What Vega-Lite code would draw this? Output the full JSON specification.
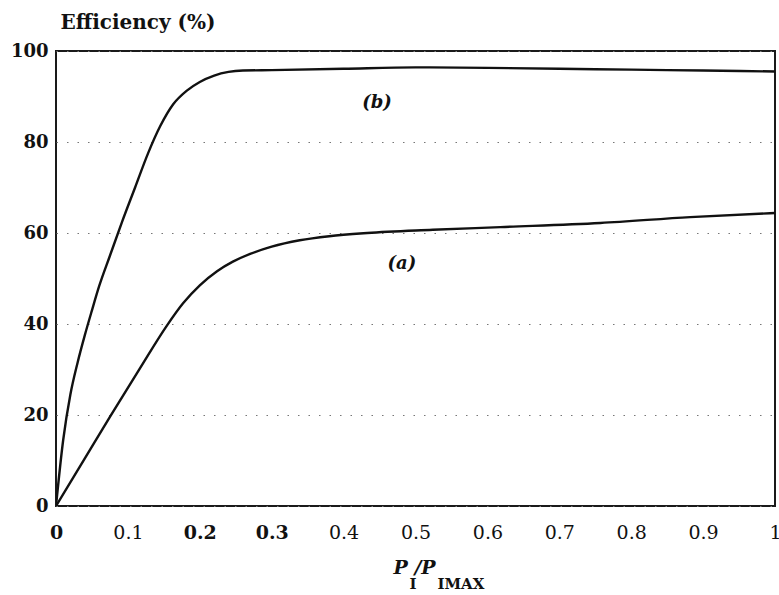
{
  "$schema": "https://vega.github.io/schema/vega-lite/v6.json",
  "width": 719,
  "height": 455,
  "autosize": {"type": "none"},
  "padding": {"left": 56, "top": 51, "right": 4, "bottom": 89},
  "background": "white",
  "config": {"view": {"stroke": "#1a1a1a", "strokeWidth": 2}, "font": "DejaVu Serif"},
  "datasets": {
    "curves": [
      {"series": "a", "x": 0, "y": 0},
      {"series": "a", "x": 0.038, "y": 9.9},
      {"series": "a", "x": 0.075, "y": 19.6},
      {"series": "a", "x": 0.115, "y": 29.8},
      {"series": "a", "x": 0.154, "y": 39.6},
      {"series": "a", "x": 0.177, "y": 44.6},
      {"series": "a", "x": 0.2, "y": 48.5},
      {"series": "a", "x": 0.224, "y": 51.6},
      {"series": "a", "x": 0.246, "y": 53.7},
      {"series": "a", "x": 0.27, "y": 55.4},
      {"series": "a", "x": 0.3, "y": 57},
      {"series": "a", "x": 0.339, "y": 58.4},
      {"series": "a", "x": 0.38, "y": 59.3},
      {"series": "a", "x": 0.433, "y": 60},
      {"series": "a", "x": 0.524, "y": 60.7},
      {"series": "a", "x": 0.618, "y": 61.3},
      {"series": "a", "x": 0.757, "y": 62.2},
      {"series": "a", "x": 0.882, "y": 63.5},
      {"series": "a", "x": 1.0, "y": 64.4},
      {"series": "b", "x": 0, "y": 0},
      {"series": "b", "x": 0.01, "y": 14.5},
      {"series": "b", "x": 0.02, "y": 24.5},
      {"series": "b", "x": 0.03, "y": 31.5},
      {"series": "b", "x": 0.04, "y": 37.5},
      {"series": "b", "x": 0.05, "y": 43},
      {"series": "b", "x": 0.06, "y": 48.3},
      {"series": "b", "x": 0.075, "y": 55},
      {"series": "b", "x": 0.092, "y": 62.5},
      {"series": "b", "x": 0.11, "y": 70},
      {"series": "b", "x": 0.128, "y": 77.5},
      {"series": "b", "x": 0.145, "y": 83.5},
      {"series": "b", "x": 0.163, "y": 88.3},
      {"series": "b", "x": 0.182, "y": 91.3},
      {"series": "b", "x": 0.2, "y": 93.2},
      {"series": "b", "x": 0.22, "y": 94.6},
      {"series": "b", "x": 0.24, "y": 95.4},
      {"series": "b", "x": 0.26, "y": 95.7},
      {"series": "b", "x": 0.3, "y": 95.8},
      {"series": "b", "x": 0.4, "y": 96.1},
      {"series": "b", "x": 0.5, "y": 96.4},
      {"series": "b", "x": 0.6, "y": 96.3},
      {"series": "b", "x": 0.7, "y": 96.1},
      {"series": "b", "x": 0.8, "y": 95.9},
      {"series": "b", "x": 0.9, "y": 95.7},
      {"series": "b", "x": 1.0, "y": 95.5}
    ],
    "labels": [
      {"label": "(b)", "x": 0.4465, "y": 88.5},
      {"label": "(a)", "x": 0.481, "y": 53.2}
    ]
  },
  "encoding": {
    "y": {
      "field": "y",
      "type": "quantitative",
      "scale": {"domain": [0, 100], "nice": false},
      "axis": {
        "title": "Efficiency (%)",
        "titleAngle": 0,
        "titleAlign": "left",
        "titleBaseline": "alphabetic",
        "titleX": 4,
        "titleY": -23,
        "titleFont": "DejaVu Serif",
        "titleFontSize": 20,
        "titleFontWeight": "bold",
        "titleColor": "#111111",
        "values": [0, 20, 40, 60, 80, 100],
        "labelFont": "DejaVu Serif",
        "labelFontSize": 18,
        "labelFontWeight": "bold",
        "labelColor": "#111111",
        "labelPadding": 8,
        "ticks": false,
        "tickSize": 0,
        "domain": false,
        "grid": true,
        "gridColor": "#777777",
        "gridDash": [1.5, 9],
        "gridWidth": 1.2
      }
    }
  },
  "layer": [
    {
      "data": {"name": "curves"},
      "mark": {"type": "line", "interpolate": "monotone", "color": "#111111", "strokeWidth": 2.4, "clip": true},
      "encoding": {
        "x": {
          "field": "x",
          "type": "quantitative",
          "scale": {"domain": [0, 1], "nice": false},
          "axis": {
            "orient": "bottom",
            "title": "P\u00a0/P",
            "titleFont": "DejaVu Serif",
            "titleFontSize": 19,
            "titleFontWeight": "bold",
            "titleFontStyle": "italic",
            "titleColor": "#111111",
            "titleAlign": "left",
            "titleBaseline": "alphabetic",
            "titleX": 337,
            "titleY": 67,
            "values": [0, 0.1, 0.2, 0.3, 0.4, 0.5, 0.6, 0.7, 0.8, 0.9, 1],
            "format": "~g",
            "labelFlush": false,
            "labelOverlap": false,
            "labelFont": "DejaVu Serif",
            "labelFontSize": 19,
            "labelFontWeight": {"expr": "datum.value == 0 || datum.value == 0.2 || datum.value == 0.3 ? 'bold' : 'normal'"},
            "labelColor": "#111111",
            "labelPadding": 17,
            "ticks": false,
            "tickSize": 0,
            "domain": false,
            "grid": false
          }
        },
        "detail": {"field": "series", "type": "nominal"}
      }
    },
    {
      "data": {"name": "labels"},
      "mark": {"type": "text", "font": "DejaVu Serif", "fontStyle": "italic", "fontWeight": "bold", "fontSize": 18, "color": "#111111", "baseline": "middle", "align": "center"},
      "encoding": {
        "x": {
          "field": "x",
          "type": "quantitative",
          "scale": {"domain": [0, 1], "nice": false},
          "axis": {
            "orient": "bottom",
            "title": "I\u00a0\u00a0\u00a0\u00a0IMAX",
            "titleFont": "DejaVu Serif",
            "titleFontSize": 15,
            "titleFontWeight": "bold",
            "titleColor": "#111111",
            "titleAlign": "left",
            "titleBaseline": "alphabetic",
            "titleX": 353,
            "titleY": 82,
            "labels": false,
            "ticks": false,
            "domain": false,
            "grid": false
          }
        },
        "text": {"field": "label", "type": "nominal"}
      }
    }
  ],
  "resolve": {"axis": {"x": "independent"}}
}
